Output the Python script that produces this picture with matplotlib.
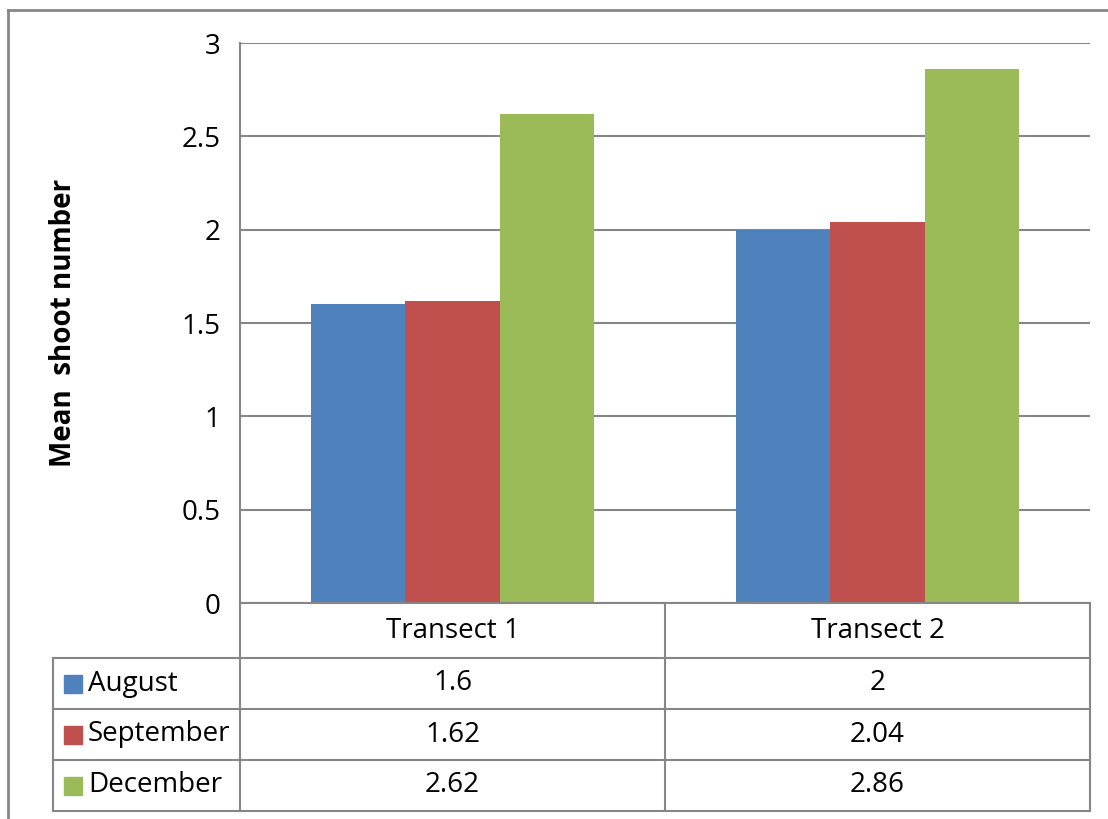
import numpy as np
import matplotlib.pyplot as plt
from matplotlib.lines import Line2D
from matplotlib.patches import Rectangle

# data
categories = ['Transect 1', 'Transect 2']
series = ['August', 'September', 'December']
august = [1.6, 2]
september = [1.62, 2.04]
december = [2.62, 2.86]
values = [august, september, december]
colors = ['#4F81BD', '#C0504D', '#9BBB59']
yticks = [0, 0.5, 1, 1.5, 2, 2.5, 3]
ytick_labels = ['0', '0.5', '1', '1.5', '2', '2.5', '3']

W, H = 1108, 819
grid_c = '#868686'
plt.rcParams['font.family'] = ['Open Sans', 'DejaVu Sans']
fs = 20

fig = plt.figure(figsize=(W / 100, H / 100), dpi=100)

def fx(px):
    return px / W

def fy(py):
    return 1 - py / H

# plot area
ax = fig.add_axes([fx(240), fy(603), fx(1090) - fx(240), fy(43) - fy(603)])
n = len(series)
bw = 1 / 4.5  # gap width 150%
x = np.arange(len(categories))
for i, (name, vals, c) in enumerate(zip(series, values, colors)):
    ax.bar(x + (i - (n - 1) / 2) * bw, vals, width=bw, color=c, zorder=2)
ax.set_xlim(-0.5, len(categories) - 0.5)
ax.set_ylim(0, 3)
ax.set_yticks(yticks)
ax.set_yticklabels(ytick_labels, fontsize=fs)
ax.tick_params(axis='y', length=0, pad=14)
ax.set_xticks([])
ax.yaxis.grid(True, color=grid_c, linewidth=1.5)
ax.set_axisbelow(True)
for s in ['top', 'right', 'bottom']:
    ax.spines[s].set_visible(False)
ax.spines['left'].set_color(grid_c)
ax.spines['left'].set_linewidth(1.5)
fig.text(fx(64), fy(323), 'Mean  shoot number', fontsize=fs, fontweight='bold',
         rotation=90, ha='center', va='center')

# data table
col_edges = [240, 665, 1090]
row_edges = [603, 658, 709, 760, 811]
lw = 1.5

def hline(y, x0, x1):
    fig.add_artist(Line2D([fx(x0), fx(x1)], [fy(y), fy(y)], color=grid_c, lw=lw))

def vline(x0, y0, y1):
    fig.add_artist(Line2D([fx(x0), fx(x0)], [fy(y0), fy(y1)], color=grid_c, lw=lw))

for y in row_edges[1:]:
    hline(y, 53, 1090)
hline(603, 240, 1090)
for xe in col_edges:
    vline(xe, 603, 811)
vline(53, 658, 811)

for j, cat in enumerate(categories):
    cx = (col_edges[j] + col_edges[j + 1]) / 2
    fig.text(fx(cx), fy((row_edges[0] + row_edges[1]) / 2), cat, fontsize=fs,
             ha='center', va='center')
    for i in range(n):
        cy = (row_edges[i + 1] + row_edges[i + 2]) / 2
        fig.text(fx(cx), fy(cy), f'{values[i][j]:g}', fontsize=fs,
                 ha='center', va='center')

for i, (name, c) in enumerate(zip(series, colors)):
    cy = (row_edges[i + 1] + row_edges[i + 2]) / 2
    fig.add_artist(Rectangle((fx(64), fy(cy + 9)), fx(18), 18 / H, color=c))
    fig.text(fx(88), fy(cy), name, fontsize=fs, ha='left', va='center')

# outer chart border
fig.add_artist(Line2D([fx(8), fx(8)], [fy(10), 0], color=grid_c, lw=2))
fig.add_artist(Line2D([fx(8), 1], [fy(10), fy(10)], color=grid_c, lw=2))

fig.savefig('out.png', dpi=100)
